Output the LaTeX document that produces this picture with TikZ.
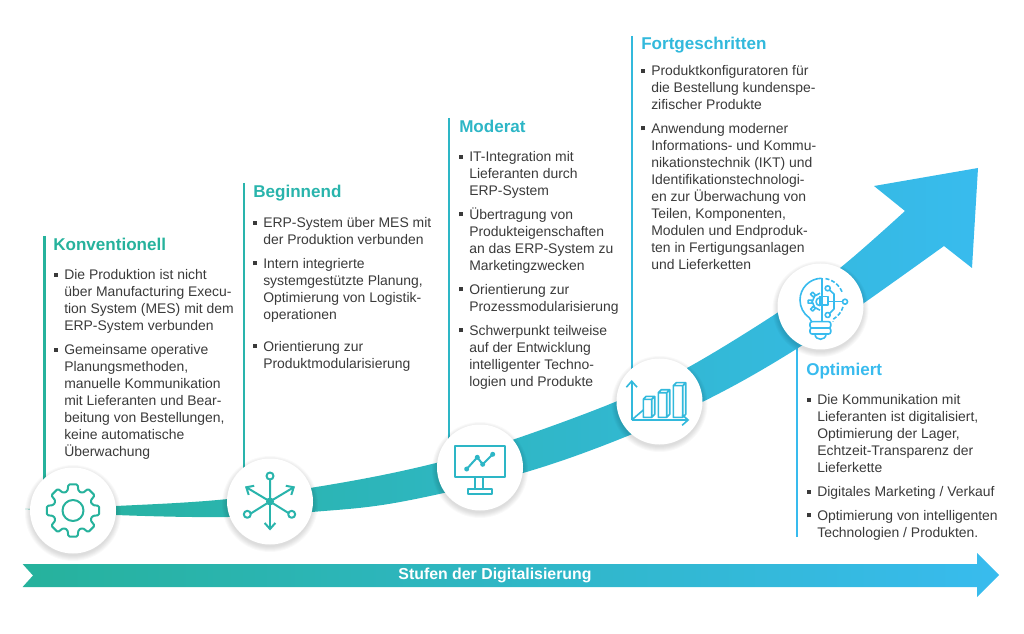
\documentclass[tikz,border=0pt]{standalone}
\usepackage{fontspec}
\setmainfont{Liberation Sans}
\usetikzlibrary{positioning,arrows.meta}

\definecolor{teala}{HTML}{26B29C}
\definecolor{tealb}{HTML}{29B4AC}
\definecolor{tealc}{HTML}{2DB6C6}
\definecolor{teald}{HTML}{32B9DC}
\definecolor{teale}{HTML}{38BBEE}
\definecolor{inkgray}{HTML}{3A3A3A}

\tikzset{
  titletxt/.style={anchor=west, inner sep=0, font=\fontsize{12.8}{16}\selectfont\bfseries},
  txt/.style={anchor=north west, inner sep=0, align=left, text=inkgray, font=\fontsize{10.45}{12.75}\selectfont},
  stem/.style={line width=1.9pt},
  disc/.style={circle, fill=white, inner sep=0, minimum size=64.5pt},
  icon/.style={line width=1.5pt, line join=round},
  thinicon/.style={line width=1.2pt, line join=round},
  barb/.style={-{Straight Barb[length=4.5pt,width=8pt]}},
  band/.style={left color=teala, middle color=tealc, right color=teale}
}
\newcommand{\bul}{\llap{\rule[2.4pt]{3pt}{3pt}\hspace{4.4pt}}\strut}
\newcommand{\softdisc}[2]{
  \foreach \r in {0,...,5} {\fill [black, opacity=.022] (#1) ++(0,2.5) circle ({43+\r});}
  \node [disc] (#2) at (#1) {};
}

\begin{document}
\begin{tikzpicture}[x=0.75pt, y=-0.75pt]
    \useasboundingbox (0,0) rectangle (1024,634);

    \coordinate (p1) at (73,510.5);
    \coordinate (p2) at (270,501.5);
    \coordinate (p3) at (480,467.5);
    \coordinate (p4) at (659.5,401.5);
    \coordinate (p5) at (820.5,306.5);

    % stems
    \coordinate (s1) at (44.5,236);
    \coordinate (s2) at (244,183);
    \coordinate (s3) at (449,118);
    \coordinate (s4) at (632,36);
    \coordinate (s5) at (797,537);
    \draw [stem, teala] (s1) -- (s1 |- p1);
    \draw [stem, tealb] (s2) -- (s2 |- p2);
    \draw [stem, tealc] (s3) -- (s3 |- p3);
    \draw [stem, teald] (s4) -- (s4 |- p4);
    \draw [stem, teale] (s5) -- (s5 |- p5);

    % rising arrow
    \shade [band] plot [smooth, tension=.6] coordinates {(25,509) (116,506) (228,499) (340,483) (436,463) (515,439) (615,402) (687,368) (777,313) (840,268) (905,211)}
      -- (874,186) -- (978,168) -- (972,268) -- (944,246)
      -- plot [smooth, tension=.6] coordinates {(944,246) (864,303) (798,348) (720,393) (630,435) (523,473) (400,502) (312,512) (228,517) (116,515) (25,509)} -- cycle;

    \softdisc{p1}{d1}
    \softdisc{p2}{d2}
    \softdisc{p3}{d3}
    \softdisc{p4}{d4}
    \softdisc{p5}{d5}

    % gear
    \begin{scope}[shift={(d1.center)}]
      \draw [icon, teala, rounded corners=1pt] (-16:20) \foreach \a in {0,45,...,315} {-- (\a-16:20) -- (\a-10:26.5) -- (\a+10:26.5) -- (\a+16:20)} -- cycle;
      \draw [icon, teala] (0,0) circle (10.5);
    \end{scope}

    % network
    \begin{scope}[shift={(d2.center)}]
      \fill [tealb] (0,0) circle (4);
      \draw [icon, tealb, barb] (0,0) -- (-25,-15);
      \draw [icon, tealb, barb] (0,0) -- (25,-15);
      \draw [icon, tealb, barb] (0,0) -- (0,29);
      \draw [icon, tealb] (0,0) -- (0,-22) (0,0) -- (-20,12.5) (0,0) -- (20,12.5);
      \draw [icon, tealb, fill=white] (0,-25.5) circle (3.5);
      \draw [icon, tealb, fill=white] (-22.7,12.8) circle (3.5);
      \draw [icon, tealb, fill=white] (21.7,12.8) circle (3.5);
    \end{scope}

    % monitor
    \draw [icon, tealc] (455,445.7) rectangle (505,476.7);
    \draw [icon, tealc] (475,476.7) -- (475,489) (483.3,476.7) -- (483.3,489);
    \draw [icon, tealc] (468,489) rectangle (491.7,494.3);
    \draw [icon, tealc] (466.7,469) -- (477.3,457.3) -- (482.7,464.3) -- (492.7,454.3);
    \foreach \q in {(466.7,469),(477.3,457.3),(482.7,464.3),(492.7,454.3)} {\fill [tealc] \q circle (2.5);}

    % bars
    \draw [thinicon, teald, barb] (631.7,420) -- (631.7,380);
    \draw [thinicon, teald, barb] (631.7,420) -- (689.3,420);
    \draw [thinicon, teald] (631.7,420) -- (643.3,410);
    \foreach \xa/\ya/\w in {643.3/399.3/8.4, 658.3/392.7/8.4, 673.3/385.7/9.4} {
      \draw [thinicon, teald] (\xa,\ya) rectangle ++(\w,18+399.3-\ya)
        (\xa,\ya) -- ++(3,-3) -- ++(\w,0) -- ++(0,18+399.3-\ya) -- ++(-3,3) ++(0,-18-399.3+\ya) -- ++(3,-3);
    }

    % bulb
    \draw [thinicon, teale] (821.7,278.3) arc (-90:-235:21.7) -- (811.7,321.7);
    \draw [thinicon, teale] (821.7,278.3) -- (821.7,321.7);
    \draw [thinicon, teale, dash pattern=on 3pt off 1.5pt] (825.5,278.6) arc (-80:-18:22);
    \draw [thinicon, teale, dash pattern=on 3pt off 1.5pt] (843,307) arc (18:58:22) -- (833,321.7);
    \draw [thinicon, teale, rounded corners=1.5pt] (810,321.7) rectangle (830.7,328);
    \draw [thinicon, teale, rounded corners=1.5pt] (810,328) rectangle (830.7,334);
    \draw [thinicon, teale] (815,334) .. controls (815,341) and (826,341) .. (826,334);
    \draw [thinicon, teale] (820,296.7) rectangle (828,305);
    \draw [thinicon, teale] (828,301.7) -- (842.5,301.7);
    \draw [thinicon, teale] (845,301.7) circle (2.5);
    \draw [thinicon, teale] (829.5,290) -- (834,294) -- (834,301.7);
    \draw [thinicon, teale] (829.5,313.5) -- (834,309) -- (834,301.7);
    \draw [thinicon, teale] (827.7,288.3) circle (2.5) (827.7,315) circle (2.5);
    \begin{scope}[shift={(820,301.7)}]
      \draw [thinicon, teale] (-90:8.5) \foreach \a in {-135,-180,-225} {-- (\a-10:8.5) -- (\a-7:12) -- (\a+7:12) -- (\a+10:8.5)} -- (90:8.5);
      \draw [thinicon, teale] (-90:4) arc (-90:-270:4);
    \end{scope}

    % bottom arrow
    \shade [band] (22.6,564) -- (977,564) -- (977,553) -- (999,575) -- (977,597) -- (977,587) -- (22.6,587) -- (33,575.5) -- cycle;
    \node [inner sep=0, text=white, font=\fontsize{11.9}{14}\selectfont\bfseries] (lab) at (495,575.5) {Stufen der Digitalisierung};

    % Konventionell
    \node [titletxt, text=teala] (t1) at (53,246) {\strut Konventionell};
    \node [below=8pt of t1.south west, txt, xshift=8.25pt] (k1) {\bul Die Produktion ist nicht\\ über Manufacturing Execu-\\ tion System (MES) mit dem\\ ERP-System verbunden\strut};
    \node [below=4.8pt of k1.south west, txt] (k2) {\bul Gemeinsame operative\\ Planungsmethoden,\\ manuelle Kommunikation\\ mit Lieferanten und Bear-\\ beitung von Bestellungen,\\ keine automatische\\ Überwachung\strut};

    % Beginnend
    \node [titletxt, text=tealb] (t2) at (253,193) {\strut Beginnend};
    \node [below=8.75pt of t2.south west, txt, xshift=7.5pt] (b1) {\bul ERP-System über MES mit\\ der Produktion verbunden\strut};
    \node [below=4.8pt of b1.south west, txt] (b2) {\bul Intern integrierte\\ systemgestützte Planung,\\ Optimierung von Logistik-\\ operationen\strut};
    \node [below=10.5pt of b2.south west, txt] (b3) {\bul Orientierung zur\\ Produktmodularisierung\strut};

    % Moderat
    \node [titletxt, text=tealc] (t3) at (459,128) {\strut Moderat};
    \node [below=8pt of t3.south west, txt, xshift=7.5pt] (m1) {\bul IT-Integration mit\\ Lieferanten durch\\ ERP-System\strut};
    \node [below=4.8pt of m1.south west, txt] (m2) {\bul Übertragung von\\ Produkteigenschaften\\ an das ERP-System zu\\ Marketingzwecken\strut};
    \node [below=4.8pt of m2.south west, txt] (m3) {\bul Orientierung zur\\ Prozessmodularisierung\strut};
    \node [below=4.8pt of m3.south west, txt] (m4) {\bul Schwerpunkt teilweise\\ auf der Entwicklung\\ intelligenter Techno-\\ logien und Produkte\strut};

    % Fortgeschritten
    \node [titletxt, text=teald] (t4) at (641,45) {\strut Fortgeschritten};
    \node [below=5.75pt of t4.south west, txt, xshift=7.5pt] (f1) {\bul Produktkonfiguratoren für\\ die Bestellung kundenspe-\\ zifischer Produkte\strut};
    \node [below=4.8pt of f1.south west, txt] (f2) {\bul Anwendung moderner\\ Informations- und Kommu-\\ nikationstechnik (IKT) und\\ Identifikationstechnologi-\\ en zur Überwachung von\\ Teilen, Komponenten,\\ Modulen und Endproduk-\\ ten in Fertigungsanlagen\\ und Lieferketten\strut};

    % Optimiert
    \node [titletxt, text=teale] (t5) at (806,371) {\strut Optimiert};
    \node [below=8pt of t5.south west, txt, xshift=8.25pt] (o1) {\bul Die Kommunikation mit\\ Lieferanten ist digitalisiert,\\ Optimierung der Lager,\\ Echtzeit-Transparenz der\\ Lieferkette\strut};
    \node [below=4.8pt of o1.south west, txt] (o2) {\bul Digitales Marketing / Verkauf\strut};
    \node [below=4.8pt of o2.south west, txt] (o3) {\bul Optimierung von intelligenten\\ Technologien / Produkten.\strut};
\end{tikzpicture}
\end{document}
